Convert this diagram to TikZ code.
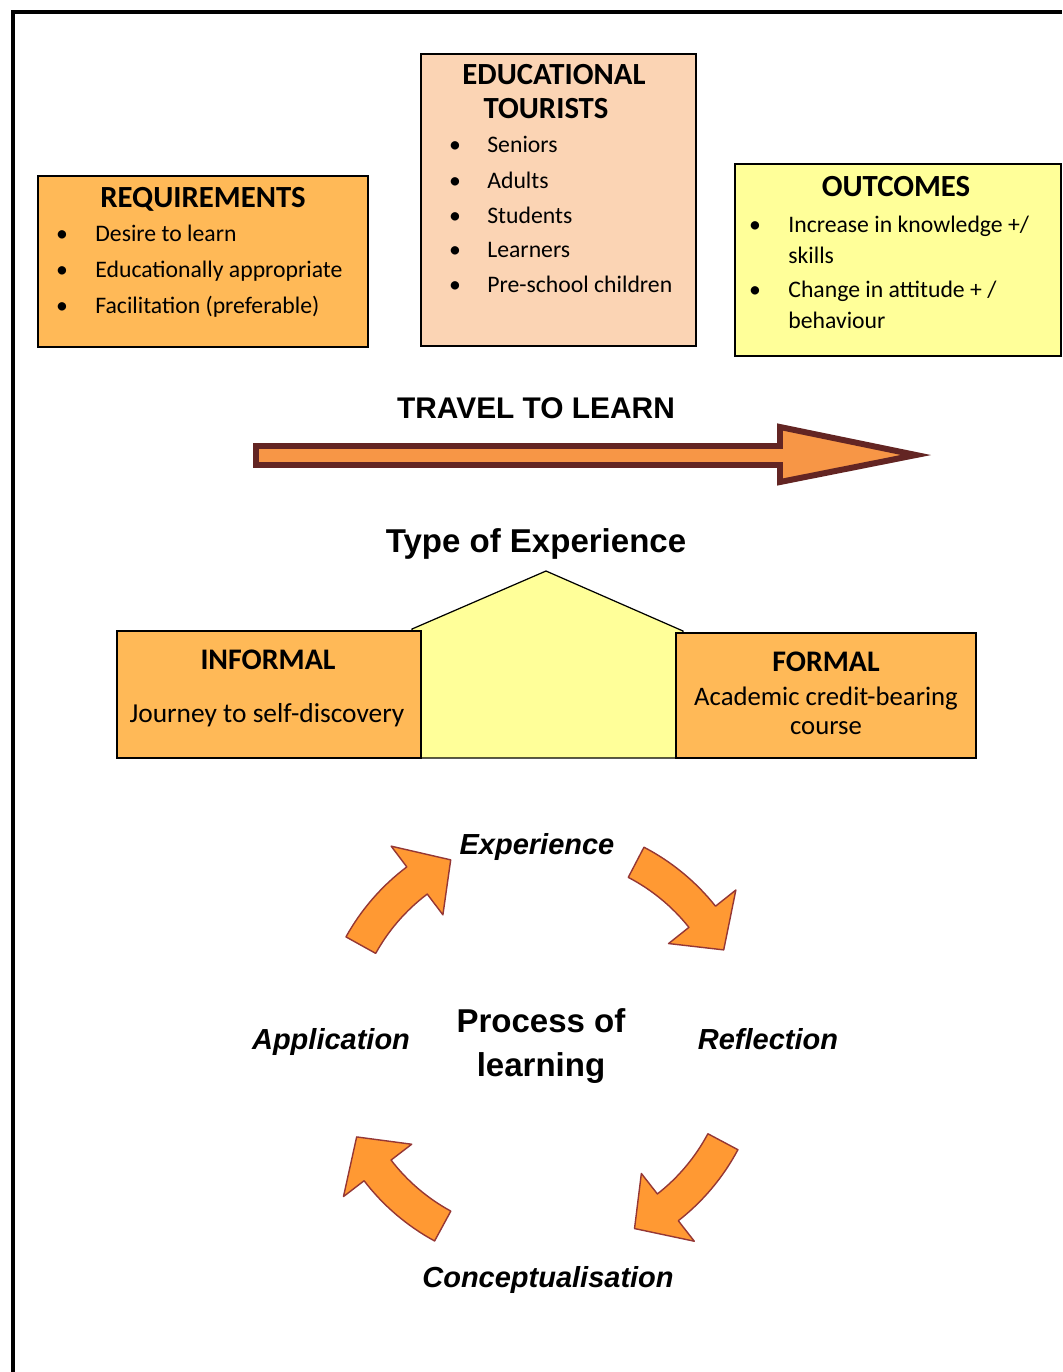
\documentclass[tikz,border=0pt]{standalone}
\usepackage{fontspec}
\setmainfont{Carlito}
\newfontfamily\arialfont{Liberation Sans}
\usepackage{tikz}
\usetikzlibrary{positioning}

\definecolor{reqorange}{HTML}{FFB957}
\definecolor{peach}{HTML}{FBD4B4}
\definecolor{paleyellow}{HTML}{FFFF99}
\definecolor{arrowfill}{HTML}{F79646}
\definecolor{arrowline}{HTML}{632523}
\definecolor{cyclefill}{HTML}{FF9933}
\definecolor{cycleline}{HTML}{953735}

\tikzset{
  box/.style={draw=black, line width=0.9pt},
  boxtitle/.style={anchor=base, inner sep=0pt, font=\bfseries\fontsize{17.5}{20}\selectfont},
  item/.style={anchor=base west, inner sep=0pt, font=\fontsize{13.5}{16}\selectfont},
  bul/.style={anchor=base, inner sep=0pt, font=\fontsize{13.5}{16}\selectfont},
  heading/.style={anchor=base, inner sep=0pt, font=\arialfont\bfseries\fontsize{18.8}{22}\selectfont},
  stage/.style={anchor=base, inner sep=0pt, font=\arialfont\bfseries\itshape\fontsize{16.5}{19}\selectfont},
  cycarrow/.style={fill=cyclefill, draw=cycleline, line width=0.8pt, line join=round}
}

\begin{document}
\begin{tikzpicture}[x=0.02cm, y=-0.02cm]
\useasboundingbox (0,0) rectangle (1062,1372);

\draw[line width=2.2pt] (13,1372) -- (13,12) -- (1062,12);

\filldraw[box, fill=reqorange] (38,176) rectangle (368,347);
\filldraw[box, fill=peach] (421,54) rectangle (696,346);
\filldraw[box, fill=paleyellow] (735,164) rectangle (1061,356);

\node[boxtitle] (req) at (203,207) {REQUIREMENTS};
\foreach \y/\t [count=\i] in {241/Desire to learn, 277/Educationally appropriate, 313/Facilitation (preferable)}
{
   \node[bul] (reqb\i) at (62,\y) {•};
   \node[item] (reqi\i) at (95,\y) {\t};
}

\node[boxtitle] (tour1) at (554,85) {EDUCATIONAL};
\node[boxtitle] (tour2) at (546,118) {TOURISTS};
\foreach \y/\t [count=\i] in {153/Seniors, 188/Adults, 223/Students, 257/Learners, 292/Pre-school children}
{
   \node[bul] (tourb\i) at (455,\y) {•};
   \node[item] (touri\i) at (487,\y) {\t};
}

\node[boxtitle] (out) at (896,196) {OUTCOMES};
\node[bul] (outb1) at (755,232) {•};
\node[item] (outi1) at (788,232) {Increase in knowledge +/};
\node[item] (outi2) at (788,263) {skills};
\node[bul] (outb2) at (755,297) {•};
\node[item] (outi3) at (788,297) {Change in attitude + /};
\node[item] (outi4) at (788,328) {behaviour};

\node[heading, font=\arialfont\bfseries\fontsize{17}{20}\selectfont] (travel) at (536,418) {TRAVEL TO LEARN};
\filldraw[line width=3.4pt, draw=arrowline, fill=arrowfill, line join=miter] (256,446) -- (780,446) -- (780,427) -- (916,455) -- (780,482) -- (780,465) -- (256,465) -- cycle;

\node[heading] (type) at (536,552) {Type of Experience};

\filldraw[draw=black, line width=0.7pt, fill=paleyellow] (412,758) -- (412,629) -- (546,571) -- (683,631) -- (683,758) -- cycle;
\filldraw[box, fill=reqorange] (117,631) rectangle (421,758);
\filldraw[box, fill=reqorange] (676,633) rectangle (976,758);

\node[boxtitle, font=\bfseries\fontsize{17}{20}\selectfont] (informal) at (268,669) {INFORMAL};
\node[anchor=base, inner sep=0pt, font=\fontsize{15.6}{19}\selectfont] (journey) at (267,722) {Journey to self-discovery};
\node[boxtitle, font=\bfseries\fontsize{17}{20}\selectfont] (formal) at (826,671) {FORMAL};
\node[anchor=base, inner sep=0pt, font=\fontsize{15.2}{18}\selectfont] (academic) at (826,705) {Academic credit-bearing};
\node[anchor=base, inner sep=0pt, font=\fontsize{15.2}{18}\selectfont] (course) at (826,734) {course};

\begin{scope}[shift={(541,1045)}, yscale=-1]
\foreach \t in {151,62.5,-28,-118.5}
   \filldraw[cycarrow] (\t:189) arc[start angle=\t, end angle=\t-24, radius=189] -- ({\t-24}:163) -- ({\t-35}:206) -- ({\t-24}:249) -- ({\t-24}:223) arc[start angle=\t-24, end angle=\t, radius=223] -- cycle;
\end{scope}

\node[stage] (exp) at (537,854) {Experience};
\node[stage] (refl) at (768,1049) {Reflection};
\node[stage] (concept) at (548,1287) {Conceptualisation};
\node[stage] (app) at (331,1049) {Application};

\node[heading] (process) at (541,1032) {Process of};
\node[heading] (learning) at (541,1076) {learning};

\end{tikzpicture}
\end{document}
